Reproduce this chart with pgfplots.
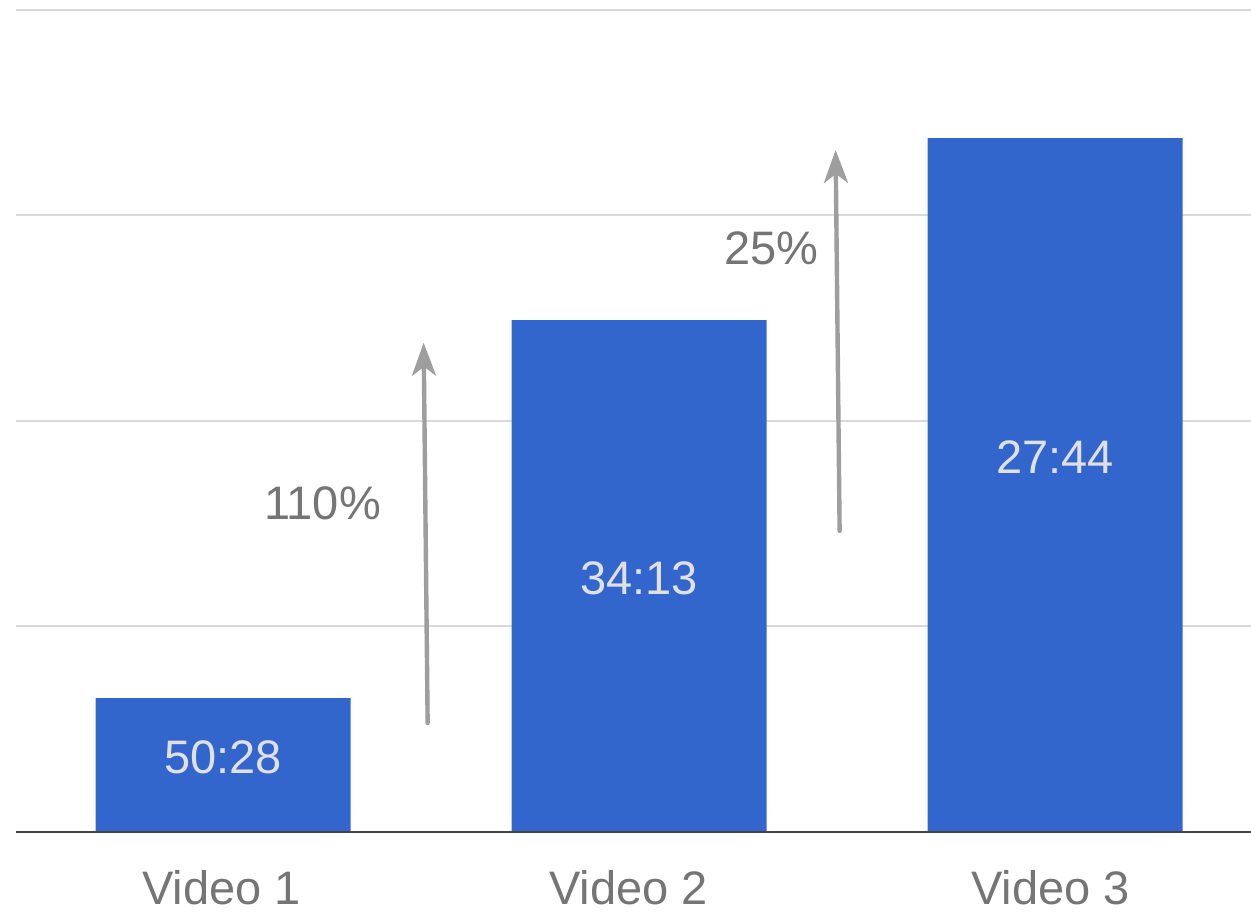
\documentclass[border=0pt]{standalone}
\usepackage{fontspec}
\setmainfont{Liberation Sans}
\usepackage{pgfplots}
\pgfplotsset{compat=1.18}
\usetikzlibrary{arrows.meta}
\definecolor{barblue}{HTML}{3366CC}
\definecolor{gridgray}{HTML}{D9D9D9}
\definecolor{labelgray}{HTML}{757575}
\definecolor{arrowgray}{HTML}{9E9E9E}
\definecolor{barlabel}{HTML}{E0E0E0}
\definecolor{basegray}{HTML}{444444}
\newcommand{\bigfont}{\fontsize{23.5}{28}\selectfont}
\begin{document}
\begin{tikzpicture}
\useasboundingbox (-8pt,-40.5pt) rectangle (617.5pt,416pt);
\begin{axis}[
  scale only axis,
  width=617.5pt, height=411pt,
  xmin=-0.498, xmax=2.471, ymin=0, ymax=4,
  axis line style={draw=none},
  ymajorgrids,
  ytick={1,2,3,4},
  yticklabel=\empty,
  major grid style={color=gridgray, line width=1pt},
  xtick={-0.004,0.975,1.989},
  xticklabels={Video 1,Video 2,Video 3},
  tick style={draw=none},
  major tick length=0pt,
  xticklabel style={anchor=base, yshift=-36.5pt, font=\bigfont, text=labelgray},
  clip=false,
]
\addplot[ybar, bar width=127.5pt, fill=barblue, draw=none] coordinates {(0,0.652) (1,2.491) (2,3.377)};
\draw[basegray, line width=1pt] (axis cs:-0.498,0) -- (axis cs:2.471,0);
\addplot[arrowgray, line width=2.2pt, line cap=round, -{Stealth[length=16.5pt,width=12pt,inset=4.5pt]}] coordinates {(0.4916,0.530) (0.482,2.381)};
\addplot[arrowgray, line width=2.2pt, line cap=round, -{Stealth[length=16.5pt,width=12pt,inset=4.5pt]}] coordinates {(1.482,1.465) (1.4724,3.319)};
\node[text=barlabel, font=\bigfont, inner sep=0pt] at (axis cs:0,0.365) {50:28};
\node[text=barlabel, font=\bigfont, inner sep=0pt] at (axis cs:1,1.236) {34:13};
\node[text=barlabel, font=\bigfont, inner sep=0pt] at (axis cs:2,1.825) {27:44};
\node[text=labelgray, font=\bigfont, inner sep=0pt] at (axis cs:0.239,1.601) {110\%};
\node[text=labelgray, font=\bigfont, inner sep=0pt] at (axis cs:1.3185,2.838) {25\%};
\end{axis}
\end{tikzpicture}
\end{document}
